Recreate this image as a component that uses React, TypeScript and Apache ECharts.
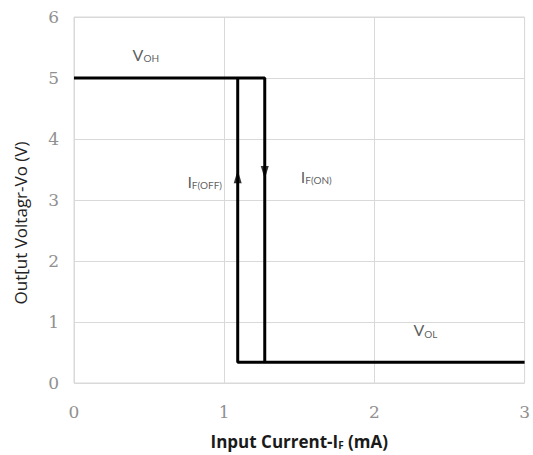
import React, { useEffect, useRef } from "react";
import * as echarts from "echarts";

const xTicks = [0, 1, 2, 3];
const yTicks = [0, 1, 2, 3, 4, 5, 6];
// Transfer curve (hysteresis): switching on at I_F(ON), off at I_F(OFF)
const onPath: [number, number][] = [
  [0, 5],
  [1.27, 5],
  [1.27, 0.34],
  [3, 0.34],
];
const offPath: [number, number][] = [
  [1.27, 0.34],
  [1.09, 0.34],
  [1.09, 5],
];
const arrowUp: [number, number][] = [[1.09, 3.38]];
const arrowDown: [number, number][] = [[1.27, 3.45]];
const labels = [
  { x: 0.39, y: 5.39, main: "V", sub: "OH" },
  { x: 0.755, y: 3.31, main: "I", sub: "F(OFF)" },
  { x: 1.51, y: 3.39, main: "I", sub: "F(ON)" },
  { x: 2.26, y: 0.87, main: "V", sub: "OL" },
];

export default function App() {
  const ref = useRef<HTMLDivElement>(null);
  useEffect(() => {
    if (!ref.current) return;
    const chart = echarts.init(ref.current, null, { renderer: "svg" });
    const tickStyle = {
      fontFamily: "DejaVu Serif",
      fontSize: 17,
      color: "#909090",
    };
    chart.setOption({
      animation: false,
      backgroundColor: "#ffffff",
      grid: {
        left: 74,
        right: 6,
        top: 17,
        bottom: 71,
        show: true,
        borderColor: "#d9d9d9",
        borderWidth: 1,
      },
      xAxis: {
        type: "value",
        min: xTicks[0],
        max: xTicks[xTicks.length - 1],
        interval: 1,
        name: "{a|Input Current-I}{s|F}{a| (mA)}",
        nameLocation: "middle",
        nameGap: 47,
        nameTextStyle: {
          rich: {
            a: {
              fontFamily: "Open Sans",
              fontWeight: "bold",
              fontSize: 17,
              color: "#1a1a1a",
              lineHeight: 22,
            },
            s: {
              fontFamily: "Open Sans",
              fontWeight: "bold",
              fontSize: 10,
              color: "#1a1a1a",
              lineHeight: 22,
              padding: [8, 0, 0, 0],
            },
          },
        },
        axisLine: { show: false },
        axisTick: { show: false },
        axisLabel: { ...tickStyle, margin: 20, formatter: (v: number) => String(v) },
        splitLine: { show: true, lineStyle: { color: "#d9d9d9", width: 1 } },
      },
      yAxis: {
        type: "value",
        min: yTicks[0],
        max: yTicks[yTicks.length - 1],
        interval: 1,
        name: "Out[ut Voltagr-Vo (V)",
        nameLocation: "middle",
        nameGap: 45,
        nameTextStyle: {
          fontFamily: "Open Sans",
          fontSize: 17,
          color: "#222222",
          padding: [0, 46, 0, 0],
        },
        axisLine: { show: false },
        axisTick: { show: false },
        axisLabel: { ...tickStyle, margin: 15 },
        splitLine: { show: true, lineStyle: { color: "#d9d9d9", width: 1 } },
      },
      series: [
        {
          type: "line",
          data: onPath,
          symbol: "none",
          lineStyle: { color: "#000000", width: 3 },
          z: 3,
        },
        {
          type: "line",
          data: offPath,
          symbol: "none",
          lineStyle: { color: "#000000", width: 3 },
          z: 3,
        },
        {
          type: "scatter",
          data: arrowUp,
          symbol: "triangle",
          symbolSize: [8, 13],
          itemStyle: { color: "#000000" },
          z: 4,
        },
        {
          type: "scatter",
          data: arrowDown,
          symbol: "triangle",
          symbolRotate: 180,
          symbolSize: [8, 13],
          itemStyle: { color: "#000000" },
          z: 4,
        },
        {
          type: "scatter",
          data: labels.map((l) => ({ value: [l.x, l.y], main: l.main, sub: l.sub })),
          symbolSize: 0,
          z: 5,
          label: {
            show: true,
            position: [0, 0],
            align: "left",
            verticalAlign: "middle",
            formatter: (p: any) => `{m|${p.data.main}}{s|${p.data.sub}}`,
            rich: {
              m: {
                fontFamily: "Lato",
                fontSize: 16,
                color: "#333333",
                lineHeight: 20,
              },
              s: {
                fontFamily: "Lato",
                fontSize: 10,
                color: "#333333",
                lineHeight: 20,
                padding: [8, 0, 0, 0],
              },
            },
          },
        },
      ],
    });
    return () => chart.dispose();
  }, []);
  return (
    <div
      ref={ref}
      style={{ position: "absolute", left: 0, top: 0, width: 533, height: 455 }}
    />
  );
}
